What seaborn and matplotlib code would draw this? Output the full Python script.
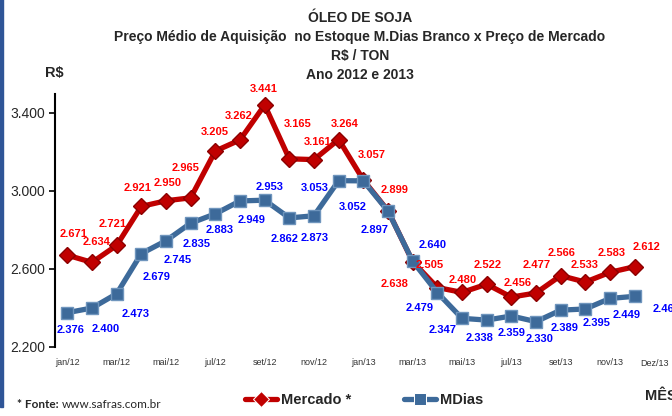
import matplotlib
matplotlib.use("Agg")
import matplotlib.pyplot as plt
from matplotlib import font_manager
from matplotlib.patches import Rectangle
from matplotlib.ticker import FuncFormatter
import seaborn as sns
import pandas as pd

meses = ['jan/12', 'fev/12', 'mar/12', 'abr/12', 'mai/12', 'jun/12',
         'jul/12', 'ago/12', 'set/12', 'out/12', 'nov/12', 'dez/12',
         'jan/13', 'fev/13', 'mar/13', 'abr/13', 'mai/13', 'jun/13',
         'jul/13', 'ago/13', 'set/13', 'out/13', 'nov/13', 'dez/13']
mercado = [2671, 2634, 2721, 2921, 2950, 2965, 3205, 3262, 3441, 3165, 3161, 3264,
           3057, 2899, 2638, 2505, 2480, 2522, 2456, 2477, 2566, 2533, 2583, 2612]
mdias = [2376, 2400, 2473, 2679, 2745, 2835, 2883, 2949, 2953, 2862, 2873, 3053,
         3052, 2897, 2640, 2479, 2347, 2338, 2359, 2330, 2389, 2395, 2449, 2460]
ticks_x = ['jan/12', 'mar/12', 'mai/12', 'jul/12', 'set/12', 'nov/12',
           'jan/13', 'mar/13', 'mai/13', 'jul/13', 'set/13', 'nov/13']
ticks_y = [2200, 2600, 3000, 3400]

# deslocamento dos rótulos (pixels)
off_mercado = [(6, 21), (5, 20), (-4, 21), (-4, 18), (2, 18), (-5, 30), (-1, 19), (-1, 24),
               (-1, 16), (8, 35), (4, 18), (6, 16), (8, 25), (7, 21), (-18, -22), (-8, 23),
               (1, 12), (1, 19), (6, 14), (1, 28), (1, 23), (-1, 17), (2, 19), (12, 20)]
off_mdias = [(3, -17), (14, -21), (19, -20), (15, -23), (12, -19), (6, -21), (4, -16), (12, -19),
             (5, 13), (-5, -21), (1, -22), (-24, -7), (-11, -26), (-13, -19), (20, 16), (-18, -15),
             (-19, -12), (-7, -18), (0, -17), (4, -17), (4, -18), (11, -14), (17, -17), (32, -13)]

nomes = {f.name for f in font_manager.fontManager.ttflist}
narrow = 'Liberation Sans Narrow' if 'Liberation Sans Narrow' in nomes else 'Liberation Sans'

sns.set_theme(style='white')
plt.rcParams['font.family'] = ['Liberation Sans', 'DejaVu Sans']

df = pd.DataFrame({
    'mes': list(range(len(meses))) * 2,
    'valor': mercado + mdias,
    'serie': ['Mercado *'] * len(meses) + ['MDias'] * len(meses),
})

fig = plt.figure(figsize=(6.72, 4.16), dpi=100)
ax = fig.add_axes([55 / 672, 1 - 347 / 416, 592 / 672, 253.5 / 416])

sns.lineplot(data=df, x='mes', y='valor', hue='serie', style='serie',
             hue_order=['Mercado *', 'MDias'],
             palette={'Mercado *': '#C00000', 'MDias': '#3D6A9A'},
             markers={'Mercado *': 'D', 'MDias': 's'}, dashes=False,
             linewidth=3.8, markersize=8, ax=ax)
for ln, mec in zip(ax.lines[:2], ['#8B0000', '#6F95BD']):
    ln.set_markeredgecolor(mec)
    ln.set_markeredgewidth(1)

for i, v in enumerate(mercado):
    ax.annotate(f'{v:,}'.replace(',', '.'), (i, v), xytext=off_mercado[i],
                textcoords='offset pixels', ha='center', va='center',
                color='#FF0000', fontweight='bold', fontsize=8, family=narrow)
for i, v in enumerate(mdias):
    ax.annotate(f'{v:,}'.replace(',', '.'), (i, v), xytext=off_mdias[i],
                textcoords='offset pixels', ha='center', va='center',
                color='#0000FF', fontweight='bold', fontsize=8, family=narrow,
                annotation_clip=False)

ax.set_xlim(-0.5, 23.5)
ax.set_ylim(2200, 3500)
ax.set_yticks(ticks_y)
ax.yaxis.set_major_formatter(FuncFormatter(lambda v, p: f'{v:,.0f}'.replace(',', '.')))
ax.set_xticks(range(0, 24, 2))
ax.set_xticklabels(ticks_x, fontsize=6.5, family=narrow, color='#333333')
ax.tick_params(axis='x', bottom=False, length=0, pad=8)
ax.tick_params(axis='y', left=True, length=4, width=1.2, color='black', labelsize=10, pad=3)
ax.set_xlabel('')
ax.set_ylabel('')
for s in ['top', 'right', 'bottom']:
    ax.spines[s].set_visible(False)
ax.spines['left'].set_color('black')
ax.spines['left'].set_linewidth(1.5)

ax.annotate('Dez/13', (23, 2200), xytext=(20, -16), textcoords='offset pixels',
            ha='center', va='center', fontsize=6.5, family=narrow, color='#333333',
            annotation_clip=False)

handles, labels = ax.get_legend_handles_labels()
ax.get_legend().remove()
fig.legend(handles, labels, loc='center', bbox_to_anchor=(0.542, 0.038), ncol=2,
           frameon=False, columnspacing=3.6, handlelength=2.2, handletextpad=0.3,
           prop={'family': narrow, 'weight': 'bold', 'size': 10.5})

titulos = ['ÓLEO DE SOJA',
           'Preço Médio de Aquisição  no Estoque M.Dias Branco x Preço de Mercado',
           'R$ / TON', 'Ano 2012 e 2013']
for k, t in enumerate(titulos):
    fig.text(360 / 672, 1 - (18 + 19 * k) / 416, t, ha='center', va='center',
             fontsize=10, fontweight='bold', family=narrow)
fig.text(54 / 672, 1 - 73 / 416, 'R$', ha='center', va='center',
         fontsize=10.5, fontweight='bold', family=narrow)
fig.text(645 / 672, 1 - 396 / 416, 'MÊS', ha='left', va='center',
         fontsize=10.5, fontweight='bold', family=narrow)

t1 = fig.text(17 / 672, 1 - 405 / 416, '* Fonte:', ha='left', va='center',
              fontsize=8.5, fontweight='bold', family=['Lato', 'DejaVu Sans'])
ax.annotate('www.safras.com.br', xy=(1, 0.5), xycoords=t1, xytext=(3, 0),
            textcoords='offset pixels', ha='left', va='center', fontsize=8.5,
            family=['Lato', 'DejaVu Sans'], annotation_clip=False)

fig.patches.append(Rectangle((0, 9 / 416), 3 / 672, 1, transform=fig.transFigure,
                             color='#2F5597', zorder=10))

fig.savefig('out.png', dpi=100)
